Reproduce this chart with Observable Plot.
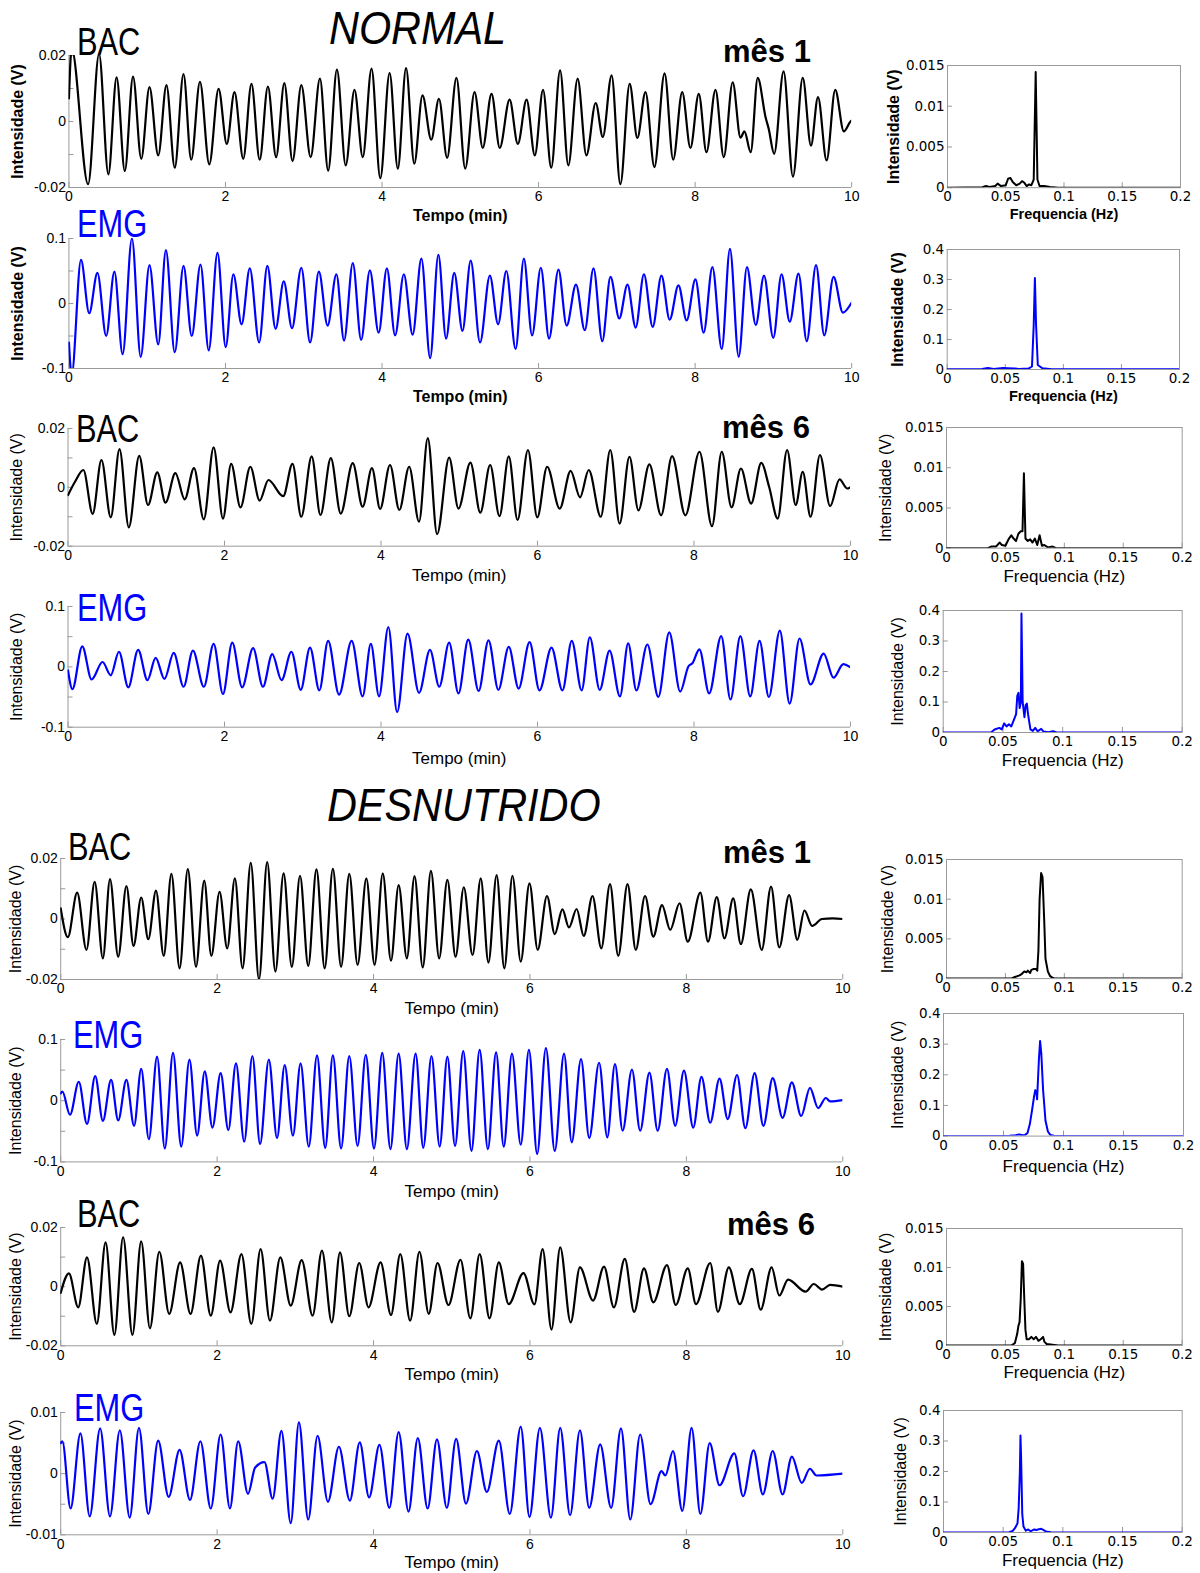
<!DOCTYPE html>
<html>
<head>
<meta charset="utf-8">
<script src="https://cdn.jsdelivr.net/npm/d3@7"></script>
<script src="https://cdn.jsdelivr.net/npm/@observablehq/plot@0.6"></script>
<style>
  html, body { margin: 0; padding: 0; background: #fff; }
  #page { position: relative; width: 1200px; height: 1573px; background: #fff; overflow: hidden; }
  #page svg { position: absolute; }
  .lbl { position: absolute; white-space: nowrap; line-height: 1; font-family: "Liberation Sans", Arial, sans-serif; transform-origin: left top; }
  .title { font-size: 46px; font-style: italic; transform: scaleX(0.9); }
  .sig { font-size: 39px; transform: scaleX(0.79); }
  .mes { font-size: 31px; font-weight: bold; }
  .blue { color: #0000ff; }
</style>
</head>
<body>
<div id="page">
  <div class="lbl title" style="left:329px; top:5px;">NORMAL</div>
  <div class="lbl title" style="left:327px; top:782px;">DESNUTRIDO</div>
  <div class="lbl sig" style="left:77px; top:22px;">BAC</div>
  <div class="lbl sig blue" style="left:77px; top:204px;">EMG</div>
  <div class="lbl sig" style="left:76px; top:409px;">BAC</div>
  <div class="lbl sig blue" style="left:77px; top:588px;">EMG</div>
  <div class="lbl sig" style="left:68px; top:827px;">BAC</div>
  <div class="lbl sig blue" style="left:73px; top:1015px;">EMG</div>
  <div class="lbl sig" style="left:77px; top:1194px;">BAC</div>
  <div class="lbl sig blue" style="left:74px; top:1388px;">EMG</div>
  <div class="lbl mes" style="left:723px; top:36px;">mês 1</div>
  <div class="lbl mes" style="left:722px; top:412px;">mês 6</div>
  <div class="lbl mes" style="left:723px; top:837px;">mês 1</div>
  <div class="lbl mes" style="left:727px; top:1209px;">mês 6</div>
</div>
<script>
// ---- axis ticks ----
const timeTicks = [0, 2, 4, 6, 8, 10];
const freqTicks = [0, 0.05, 0.1, 0.15, 0.2];
const bacTicks = [-0.02, 0, 0.02];
const bacMinor = [-0.01, 0.01];
const emgTicks = [-0.1, 0, 0.1];
const emgMinor = [-0.05, 0.05];
const emgSmallTicks = [-0.01, 0, 0.01];
const emgSmallMinor = [-0.005, 0.005];
const bacSpecTicks = [0, 0.005, 0.01, 0.015];
const emgSpecTicks = [0, 0.1, 0.2, 0.3, 0.4];

// ---- time signals: [time (min), intensity (V)] at successive extrema ----
const normalBacM1 = [[0,0.007],[0.035,0.022],[0.245,-0.019],[0.385,0.0205],[0.504,-0.016],[0.609,0.0134],[0.714,-0.015],[0.819,0.0136],[0.924,-0.0113],[1.029,0.0104],[1.141,-0.0103],[1.246,0.011],[1.352,-0.014],[1.464,0.0144],[1.562,-0.0116],[1.674,0.012],[1.793,-0.013],[1.912,0.0099],[2.017,-0.0068],[2.115,0.0089],[2.227,-0.0113],[2.332,0.0114],[2.437,-0.0116],[2.542,0.0106],[2.647,-0.0108],[2.752,0.0116],[2.857,-0.012],[2.969,0.011],[3.088,-0.0108],[3.207,0.013],[3.312,-0.0149],[3.424,0.0157],[3.536,-0.0133],[3.648,0.0096],[3.754,-0.0108],[3.866,0.016],[3.978,-0.0172],[4.097,0.0147],[4.202,-0.0143],[4.307,0.0162],[4.412,-0.0128],[4.517,0.0079],[4.629,-0.0055],[4.727,0.0069],[4.832,-0.011],[4.951,0.0132],[5.063,-0.0143],[5.182,0.0089],[5.287,-0.008],[5.399,0.0084],[5.504,-0.008],[5.63,0.0066],[5.735,-0.0068],[5.847,0.0066],[5.952,-0.0103],[6.057,0.0096],[6.162,-0.014],[6.275,0.0155],[6.38,-0.0133],[6.499,0.013],[6.611,-0.0103],[6.73,0.0056],[6.821,-0.0047],[6.933,0.014],[7.045,-0.019],[7.164,0.0114],[7.262,-0.005],[7.366,0.0089],[7.48,-0.0138],[7.61,0.0146],[7.72,-0.0116],[7.835,0.0089],[7.94,-0.008],[8.047,0.0084],[8.145,-0.0093],[8.26,0.0096],[8.366,-0.0108],[8.48,0.0119],[8.58,-0.0049],[8.63,-0.003],[8.71,-0.0093],[8.8,0.0132],[8.9,0.0013],[8.94,-0.0022],[9.01,-0.0098],[9.13,0.0152],[9.25,-0.0167],[9.375,0.0132],[9.48,-0.0073],[9.57,0.0074],[9.68,-0.0118],[9.79,0.0096],[9.9,-0.003],[9.985,0],[10,0.0003]];

const normalEmgM1 = [[0,-0.06],[0.035,-0.11],[0.154,0.067],[0.259,-0.015],[0.364,0.047],[0.476,-0.05],[0.581,0.049],[0.686,-0.078],[0.805,0.1],[0.917,-0.082],[1.029,0.059],[1.141,-0.063],[1.239,0.082],[1.352,-0.075],[1.464,0.058],[1.569,-0.05],[1.681,0.06],[1.786,-0.072],[1.898,0.078],[2.003,-0.067],[2.101,0.045],[2.206,-0.032],[2.311,0.054],[2.43,-0.06],[2.535,0.058],[2.64,-0.039],[2.745,0.034],[2.85,-0.038],[2.969,0.055],[3.081,-0.06],[3.193,0.049],[3.305,-0.034],[3.417,0.045],[3.515,-0.057],[3.627,0.062],[3.733,-0.056],[3.845,0.051],[3.957,-0.045],[4.062,0.054],[4.167,-0.049],[4.279,0.045],[4.391,-0.048],[4.503,0.069],[4.615,-0.084],[4.72,0.075],[4.818,-0.054],[4.923,0.047],[5.028,-0.042],[5.133,0.066],[5.252,-0.06],[5.378,0.043],[5.483,-0.032],[5.588,0.05],[5.707,-0.07],[5.812,0.069],[5.917,-0.049],[6.029,0.055],[6.134,-0.054],[6.254,0.052],[6.359,-0.034],[6.478,0.029],[6.59,-0.041],[6.702,0.054],[6.814,-0.058],[6.919,0.041],[7.031,-0.023],[7.136,0.029],[7.241,-0.037],[7.346,0.045],[7.458,-0.036],[7.57,0.043],[7.675,-0.025],[7.787,0.028],[7.892,-0.026],[8.004,0.037],[8.109,-0.045],[8.221,0.056],[8.34,-0.07],[8.445,0.084],[8.557,-0.082],[8.662,0.056],[8.775,-0.033],[8.88,0.043],[8.999,-0.053],[9.104,0.045],[9.209,-0.028],[9.321,0.046],[9.426,-0.058],[9.545,0.059],[9.65,-0.049],[9.769,0.041],[9.888,-0.014],[10,0.0015]];

const normalBacM6 = [[0,-0.0026],[0.091,0.002],[0.196,0.0059],[0.315,-0.009],[0.427,0.0093],[0.546,-0.0102],[0.658,0.013],[0.777,-0.0136],[0.91,0.0107],[1.022,-0.006],[1.141,0.0051],[1.246,-0.0052],[1.372,0.0048],[1.491,-0.0041],[1.61,0.0065],[1.735,-0.0109],[1.861,0.0136],[1.98,-0.0106],[2.085,0.008],[2.204,-0.0068],[2.33,0.007],[2.449,-0.0045],[2.561,0.0025],[2.75,-0.003],[2.869,0.008],[2.981,-0.01],[3.114,0.0105],[3.226,-0.0094],[3.359,0.0099],[3.485,-0.0089],[3.639,0.0082],[3.765,-0.0066],[3.884,0.0065],[3.989,-0.0073],[4.115,0.0076],[4.234,-0.0077],[4.36,0.007],[4.486,-0.0117],[4.598,0.0167],[4.717,-0.0159],[4.871,0.0101],[4.99,-0.0072],[5.143,0.0084],[5.269,-0.0086],[5.395,0.0076],[5.514,-0.0098],[5.633,0.0105],[5.745,-0.0111],[5.878,0.0127],[5.997,-0.0102],[6.123,0.007],[6.284,-0.0072],[6.424,0.0056],[6.543,-0.0034],[6.655,0.0059],[6.809,-0.01],[6.93,0.0127],[7.05,-0.0123],[7.175,0.0104],[7.29,-0.0078],[7.43,0.0078],[7.58,-0.0095],[7.72,0.0106],[7.89,-0.0095],[8.07,0.0121],[8.23,-0.0132],[8.355,0.0121],[8.48,-0.0068],[8.6,0.0064],[8.73,-0.0055],[8.86,0.0083],[8.96,0.0002],[9.07,-0.0106],[9.19,0.0127],[9.3,-0.006],[9.39,0.0053],[9.49,-0.01],[9.61,0.011],[9.74,-0.0064],[9.86,0.0027],[9.96,-0.0004],[10,0.0001]];

const normalEmgM6 = [[0,-0.006],[0.056,-0.037],[0.182,0.034],[0.301,-0.021],[0.441,0.008],[0.546,-0.014],[0.651,0.025],[0.77,-0.034],[0.896,0.028],[1.015,-0.022],[1.12,0.015],[1.232,-0.02],[1.351,0.023],[1.477,-0.033],[1.596,0.027],[1.736,-0.033],[1.861,0.038],[1.98,-0.045],[2.099,0.04],[2.225,-0.034],[2.365,0.031],[2.491,-0.033],[2.61,0.021],[2.729,-0.022],[2.855,0.025],[2.974,-0.038],[3.093,0.032],[3.212,-0.039],[3.324,0.043],[3.464,-0.046],[3.625,0.043],[3.765,-0.049],[3.87,0.038],[3.975,-0.049],[4.094,0.066],[4.206,-0.075],[4.339,0.055],[4.486,-0.043],[4.626,0.028],[4.745,-0.033],[4.871,0.04],[4.99,-0.044],[5.115,0.045],[5.248,-0.04],[5.374,0.044],[5.5,-0.038],[5.633,0.033],[5.759,-0.036],[5.899,0.041],[6.025,-0.039],[6.179,0.032],[6.319,-0.039],[6.438,0.043],[6.564,-0.039],[6.669,0.049],[6.795,-0.038],[6.921,0.027],[7.054,-0.049],[7.159,0.039],[7.264,-0.039],[7.404,0.037],[7.544,-0.05],[7.684,0.057],[7.824,-0.041],[7.93,0.001],[7.98,0.006],[8.069,0.029],[8.194,-0.044],[8.348,0.051],[8.467,-0.054],[8.593,0.051],[8.719,-0.049],[8.838,0.043],[8.957,-0.05],[9.097,0.06],[9.223,-0.061],[9.349,0.047],[9.489,-0.029],[9.657,0.022],[9.783,-0.018],[9.909,0.0045],[10,-0.001]];

const desnBacM1 = [[0,0.0035],[0.091,-0.006],[0.21,0.0087],[0.329,-0.0102],[0.434,0.0123],[0.539,-0.013],[0.63,0.0132],[0.735,-0.0125],[0.84,0.0109],[0.931,-0.0089],[1.029,0.0071],[1.12,-0.0067],[1.218,0.0094],[1.317,-0.0122],[1.415,0.0149],[1.52,-0.0163],[1.625,0.0165],[1.73,-0.0158],[1.835,0.0127],[1.926,-0.0122],[2.031,0.009],[2.129,-0.0097],[2.227,0.0134],[2.325,-0.0163],[2.43,0.0186],[2.535,-0.02],[2.64,0.0188],[2.745,-0.0174],[2.85,0.0151],[2.955,-0.0158],[3.06,0.0143],[3.165,-0.0155],[3.27,0.0164],[3.375,-0.0163],[3.48,0.0166],[3.585,-0.0158],[3.69,0.0149],[3.796,-0.0152],[3.908,0.0134],[4.013,-0.0152],[4.118,0.0151],[4.223,-0.0138],[4.321,0.0112],[4.426,-0.013],[4.524,0.0142],[4.629,-0.016],[4.734,0.0159],[4.839,-0.013],[4.944,0.0129],[5.049,-0.0125],[5.154,0.0105],[5.266,-0.0119],[5.371,0.0134],[5.469,-0.0144],[5.574,0.0145],[5.672,-0.0163],[5.777,0.0143],[5.882,-0.0141],[5.994,0.0118],[6.099,-0.0102],[6.218,0.0076],[6.317,-0.005],[6.415,0.0032],[6.499,-0.0028],[6.597,0.0033],[6.688,-0.0056],[6.8,0.0076],[6.912,-0.0097],[7.024,0.0115],[7.129,-0.0122],[7.248,0.0115],[7.353,-0.0102],[7.472,0.0076],[7.577,-0.0058],[7.689,0.0046],[7.794,-0.0036],[7.913,0.0052],[8.018,-0.0075],[8.179,0.0087],[8.277,-0.0075],[8.389,0.0072],[8.487,-0.0064],[8.599,0.0068],[8.697,-0.0083],[8.824,0.0098],[8.964,-0.0102],[9.083,0.0107],[9.188,-0.0094],[9.314,0.0079],[9.419,-0.0069],[9.51,0.0028],[9.608,-0.0023],[9.734,0],[9.874,0.0002],[10,0]];

const desnEmgM1 = [[0,0.012],[0.021,0.015],[0.119,-0.023],[0.231,0.031],[0.336,-0.038],[0.441,0.04],[0.539,-0.033],[0.644,0.034],[0.735,-0.032],[0.84,0.034],[0.938,-0.041],[1.029,0.052],[1.127,-0.063],[1.232,0.072],[1.331,-0.078],[1.436,0.078],[1.541,-0.075],[1.646,0.067],[1.744,-0.057],[1.842,0.048],[1.94,-0.044],[2.045,0.045],[2.143,-0.048],[2.241,0.061],[2.346,-0.067],[2.451,0.073],[2.549,-0.071],[2.661,0.067],[2.766,-0.061],[2.864,0.058],[2.969,-0.057],[3.067,0.061],[3.172,-0.075],[3.277,0.074],[3.382,-0.077],[3.48,0.074],[3.585,-0.078],[3.69,0.073],[3.796,-0.074],[3.901,0.075],[4.006,-0.078],[4.111,0.078],[4.216,-0.079],[4.321,0.077],[4.426,-0.079],[4.538,0.077],[4.636,-0.077],[4.741,0.073],[4.846,-0.075],[4.944,0.072],[5.042,-0.074],[5.147,0.081],[5.252,-0.082],[5.357,0.083],[5.462,-0.079],[5.567,0.079],[5.665,-0.075],[5.77,0.077],[5.882,-0.072],[5.987,0.083],[6.092,-0.087],[6.204,0.086],[6.317,-0.082],[6.436,0.077],[6.534,-0.068],[6.653,0.068],[6.758,-0.061],[6.884,0.062],[6.989,-0.06],[7.087,0.06],[7.185,-0.049],[7.304,0.051],[7.409,-0.049],[7.528,0.046],[7.633,-0.049],[7.752,0.052],[7.857,-0.041],[7.969,0.049],[8.088,-0.044],[8.193,0.039],[8.305,-0.036],[8.424,0.036],[8.529,-0.03],[8.648,0.042],[8.754,-0.045],[8.873,0.045],[8.985,-0.041],[9.104,0.037],[9.23,-0.028],[9.349,0.03],[9.468,-0.025],[9.58,0.021],[9.685,-0.012],[9.783,0.0044],[9.839,-0.001],[10,0.001]];

const desnBacM6 = [[0,-0.0021],[0.105,0.0045],[0.224,-0.007],[0.336,0.0099],[0.462,-0.0126],[0.574,0.015],[0.686,-0.0163],[0.798,0.0167],[0.917,-0.0163],[1.029,0.0153],[1.141,-0.0141],[1.261,0.0118],[1.387,-0.0092],[1.527,0.0082],[1.66,-0.0092],[1.793,0.0105],[1.919,-0.0098],[2.038,0.0088],[2.171,-0.0087],[2.311,0.011],[2.437,-0.0126],[2.556,0.0127],[2.675,-0.0115],[2.808,0.0099],[2.941,-0.0064],[3.081,0.009],[3.221,-0.0098],[3.34,0.0122],[3.466,-0.0121],[3.571,0.0116],[3.69,-0.01],[3.817,0.008],[3.936,-0.007],[4.09,0.0082],[4.223,-0.0096],[4.342,0.011],[4.468,-0.0115],[4.587,0.0118],[4.706,-0.0092],[4.818,0.008],[4.958,-0.0062],[5.112,0.0091],[5.238,-0.0107],[5.357,0.011],[5.483,-0.0107],[5.602,0.0082],[5.728,-0.0059],[5.917,0.0046],[6.057,-0.006],[6.162,0.0127],[6.275,-0.0145],[6.387,0.0133],[6.52,-0.0121],[6.639,0.0065],[6.807,-0.0047],[6.947,0.0068],[7.073,-0.007],[7.213,0.0094],[7.332,-0.0085],[7.458,0.0062],[7.577,-0.0053],[7.752,0.0073],[7.864,-0.0062],[8.018,0.0062],[8.123,-0.0059],[8.305,0.008],[8.403,-0.0085],[8.543,0.0065],[8.683,-0.0059],[8.838,0.006],[8.95,-0.0078],[9.09,0.0065],[9.188,-0.003],[9.3,0.0024],[9.524,-0.0017],[9.629,0.0009],[9.734,-0.001],[9.839,0.0006],[10,0]];

const desnEmgM6 = [[0,0.005],[0.021,0.0053],[0.126,-0.0057],[0.252,0.0066],[0.371,-0.007],[0.504,0.0074],[0.63,-0.007],[0.756,0.0071],[0.882,-0.0072],[1.001,0.0075],[1.12,-0.0066],[1.246,0.0054],[1.38,-0.0038],[1.52,0.0039],[1.653,-0.0043],[1.786,0.0053],[1.919,-0.0057],[2.045,0.0064],[2.164,-0.0057],[2.269,0.0053],[2.395,-0.0033],[2.486,0.001],[2.605,0.0019],[2.71,-0.0041],[2.822,0.007],[2.941,-0.0081],[3.046,0.0084],[3.165,-0.0075],[3.284,0.0062],[3.417,-0.0046],[3.557,0.0044],[3.697,-0.0044],[3.824,0.0051],[3.943,-0.0039],[4.076,0.0047],[4.202,-0.0056],[4.321,0.0068],[4.447,-0.0062],[4.566,0.0058],[4.692,-0.0057],[4.811,0.0056],[4.937,-0.0056],[5.056,0.0057],[5.182,-0.0049],[5.322,0.0037],[5.448,-0.003],[5.602,0.0054],[5.742,-0.0066],[5.882,0.0077],[5.994,-0.0071],[6.127,0.0075],[6.268,-0.0072],[6.387,0.0075],[6.513,-0.0068],[6.639,0.0071],[6.758,-0.0056],[6.898,0.0048],[7.038,-0.0056],[7.164,0.0074],[7.283,-0.0075],[7.409,0.0064],[7.542,-0.005],[7.682,0.0004],[7.731,-0.0003],[7.829,0.0037],[7.948,-0.0061],[8.067,0.0075],[8.179,-0.0066],[8.298,0.005],[8.424,-0.0019],[8.613,0.0033],[8.725,-0.0037],[8.859,0.0038],[8.978,-0.0034],[9.104,0.0037],[9.23,-0.0034],[9.349,0.0028],[9.475,-0.0015],[9.58,0.0008],[9.664,-0.0003],[10,0]];

// ---- spectra: [frequency (Hz), intensity (V)] ----
const specNormalBacM1 = [[0,0],[0.03,0.00005],[0.033,0.0002],[0.036,0.0001],[0.041,0.0002],[0.043,0.0005],[0.046,0.0002],[0.05,0.0003],[0.052,0.0011],[0.054,0.0012],[0.056,0.0007],[0.059,0.0003],[0.062,0.0005],[0.064,0.0008],[0.066,0.0006],[0.068,0.0002],[0.07,0.0004],[0.072,0.0003],[0.074,0.001],[0.0757,0.0142],[0.0772,0.001],[0.079,0.0002],[0.083,0.0002],[0.088,0.0001],[0.095,0],[0.2,0]];
const specNormalEmgM1 = [[0,0.001],[0.03,0.002],[0.035,0.005],[0.04,0.002],[0.048,0.005],[0.052,0.004],[0.058,0.003],[0.062,0.002],[0.07,0.003],[0.073,0.01],[0.0745,0.15],[0.0755,0.305],[0.0765,0.15],[0.078,0.015],[0.082,0.004],[0.09,0.001],[0.2,0.001]];
const specNormalBacM6 = [[0,0],[0.035,0],[0.038,0.0002],[0.042,0.0002],[0.045,0.0007],[0.047,0.0004],[0.05,0.0003],[0.053,0.0012],[0.055,0.0016],[0.057,0.0012],[0.059,0.0009],[0.061,0.0018],[0.063,0.0021],[0.0645,0.0021],[0.0657,0.0093],[0.067,0.0012],[0.069,0.0009],[0.071,0.0011],[0.073,0.0007],[0.075,0.0012],[0.077,0.0004],[0.079,0.0016],[0.081,0.0003],[0.083,0.0004],[0.086,0.0001],[0.09,0.0002],[0.093,0],[0.2,0]];
const specNormalEmgM6 = [[0,0],[0.04,0],[0.043,0.01],[0.047,0.015],[0.049,0.01],[0.051,0.03],[0.053,0.02],[0.055,0.027],[0.057,0.02],[0.059,0.04],[0.061,0.06],[0.062,0.12],[0.063,0.13],[0.064,0.08],[0.065,0.1],[0.0655,0.39],[0.0665,0.1],[0.068,0.05],[0.069,0.09],[0.07,0.095],[0.071,0.06],[0.073,0.01],[0.075,0.005],[0.077,0.015],[0.079,0.004],[0.082,0.012],[0.084,0.003],[0.088,0.001],[0.092,0.004],[0.095,0],[0.2,0]];
const specDesnBacM1 = [[0,0],[0.055,0],[0.058,0.0002],[0.062,0.0004],[0.064,0.0006],[0.066,0.0009],[0.068,0.0008],[0.069,0.001],[0.071,0.0007],[0.072,0.0011],[0.074,0.0012],[0.076,0.0012],[0.077,0.001],[0.078,0.0035],[0.079,0.01],[0.0803,0.0133],[0.0815,0.0128],[0.083,0.007],[0.084,0.0025],[0.086,0.0009],[0.088,0.0003],[0.09,0.0001],[0.092,0],[0.2,0]];
const specDesnEmgM1 = [[0,0],[0.055,0.001],[0.06,0.003],[0.063,0.005],[0.066,0.003],[0.068,0.004],[0.07,0.01],[0.072,0.04],[0.074,0.09],[0.0755,0.13],[0.0765,0.15],[0.0775,0.14],[0.078,0.12],[0.0795,0.25],[0.0805,0.31],[0.0815,0.27],[0.083,0.15],[0.085,0.05],[0.087,0.015],[0.089,0.004],[0.092,0.001],[0.2,0]];
const specDesnBacM6 = [[0,0],[0.055,0],[0.058,0.0003],[0.06,0.0015],[0.061,0.0025],[0.062,0.003],[0.063,0.006],[0.064,0.0108],[0.065,0.0105],[0.066,0.006],[0.067,0.002],[0.068,0.0008],[0.07,0.0008],[0.072,0.0011],[0.074,0.0008],[0.076,0.0011],[0.078,0.0006],[0.08,0.0008],[0.082,0.0011],[0.083,0.0005],[0.085,0.0002],[0.09,0.0001],[0.095,0],[0.2,0]];
const specDesnEmgM6 = [[0,0],[0.055,0.001],[0.058,0.005],[0.06,0.015],[0.062,0.03],[0.063,0.08],[0.064,0.2],[0.0645,0.318],[0.065,0.25],[0.066,0.06],[0.067,0.02],[0.069,0.006],[0.071,0.01],[0.073,0.004],[0.076,0.01],[0.078,0.008],[0.08,0.011],[0.082,0.012],[0.084,0.008],[0.086,0.003],[0.09,0.001],[0.2,0]];

// ---- drawing ----
const BLACK = "#000000";
const BLUE = "#0000ff";
const AXIS = "#9a9a9a";
const SANS = "'Liberation Sans', Arial, Helvetica, sans-serif";
const fmt = d => String(d);
const page = document.getElementById("page");

function place(svg, left, top) {
  svg.style.left = left + "px";
  svg.style.top = top + "px";
  page.insertBefore(svg, page.firstChild);
}

// centred axis titles, drawn as text marks anchored on the frame
function xTitle(label, dy, size, bold) {
  return Plot.text([label], {text: d => d, frameAnchor: "bottom", textAnchor: "middle", lineAnchor: "middle", dy, fontFamily: SANS, fontSize: size, fontWeight: bold ? "bold" : "normal"});
}
function yTitle(label, dx, size, bold) {
  return Plot.text([label], {text: d => d, frameAnchor: "left", textAnchor: "middle", lineAnchor: "middle", dx, rotate: -90, fontFamily: SANS, fontSize: size, fontWeight: bold ? "bold" : "normal"});
}

function timePanel(p) {
  const mt = 15, mb = 45, mr = 20;
  const fw = p.x1 - p.x0, fh = p.bottom - p.top;
  const chart = Plot.plot({
    width: p.x1 + mr,
    height: fh + mt + mb,
    marginLeft: p.x0, marginRight: mr, marginTop: mt, marginBottom: mb,
    x: {domain: [0, 10]},
    y: {domain: p.yDomain},
    style: {fontFamily: SANS, fontSize: "14px", color: "#000", background: "transparent", overflow: "visible"},
    marks: [
      Plot.ruleY([p.yDomain[0]], {stroke: AXIS}),
      Plot.ruleX([0], {stroke: AXIS}),
      Plot.tickX(timeTicks, {stroke: AXIS, insetTop: fh - 5}),
      Plot.tickY([...p.yTicks, ...p.yMinor], {stroke: AXIS, insetRight: fw - 5}),
      Plot.axisX({ticks: timeTicks, tickSize: 0, tickPadding: 4, label: null, tickFormat: fmt}),
      Plot.axisY({ticks: p.yTicks, tickSize: 0, tickPadding: 3, label: null, tickFormat: fmt}),
      Plot.line(p.data, {x: d => d[0], y: d => d[1], curve: "monotone-x", stroke: p.color, strokeWidth: 2.2, clip: true}),
      xTitle("Tempo (min)", p.xlabDy, p.bold ? 16 : 17, p.bold),
      yTitle("Intensidade (V)", p.ylabX - p.x0, 16, p.bold)
    ]
  });
  place(chart, 0, p.top - mt);
}

function specPanel(p) {
  const L = 850, mt = 15, mb = 45, mr = 15;
  const fw = p.x1 - p.x0, fh = p.bottom - p.top;
  const marks = [
    Plot.frame({stroke: AXIS}),
    Plot.tickX(freqTicks, {stroke: AXIS, insetTop: fh - 5}),
    Plot.tickY(p.yTicks, {stroke: AXIS, insetRight: fw - 5}),
    Plot.axisX({ticks: freqTicks, tickSize: 0, tickPadding: 4, label: null, tickFormat: fmt}),
    Plot.axisY({ticks: p.yTicks, tickSize: 0, tickPadding: 3, label: null, tickFormat: fmt}),
    Plot.line(p.data, {x: d => d[0], y: d => d[1], stroke: p.color, strokeWidth: 2, clip: true}),
    yTitle("Intensidade (V)", p.ylabX - p.x0, 16, p.bold)
  ];
  if (p.xlabDy != null) marks.push(xTitle("Frequencia (Hz)", p.xlabDy, p.bold ? 14.5 : 17, p.bold));
  const chart = Plot.plot({
    width: p.x1 + mr - L,
    height: fh + mt + mb,
    marginLeft: p.x0 - L, marginRight: mr, marginTop: mt, marginBottom: mb,
    x: {domain: [0, 0.2]},
    y: {domain: p.yDomain},
    style: {fontFamily: "'DejaVu Sans', sans-serif", fontSize: "13.5px", color: "#000", background: "transparent", overflow: "visible"},
    marks
  });
  place(chart, L, p.top - mt);
}

const bacAxis = {yDomain: [-0.02, 0.02], yTicks: bacTicks, yMinor: bacMinor};
const emgAxis = {yDomain: [-0.1, 0.1], yTicks: emgTicks, yMinor: emgMinor};
const emgSmallAxis = {yDomain: [-0.01, 0.01], yTicks: emgSmallTicks, yMinor: emgSmallMinor};
const bacSpecAxis = {yDomain: [0, 0.015], yTicks: bacSpecTicks};
const emgSpecAxis = {yDomain: [0, 0.4], yTicks: emgSpecTicks};

[
  {data: normalBacM1, color: BLACK, ...bacAxis, x0: 68.4, x1: 851.2, top: 55, bottom: 187, bold: true, xlabDy: 28, ylabX: 17},
  {data: normalEmgM1, color: BLUE, ...emgAxis, x0: 68.4, x1: 851.2, top: 238.3, bottom: 368.3, bold: true, xlabDy: 28, ylabX: 17},
  {data: normalBacM6, color: BLACK, ...bacAxis, x0: 67.5, x1: 850, top: 428.3, bottom: 546, bold: false, xlabDy: 29, ylabX: 16},
  {data: normalEmgM6, color: BLUE, ...emgAxis, x0: 67.5, x1: 850, top: 606, bottom: 726.7, bold: false, xlabDy: 31, ylabX: 16},
  {data: desnBacM1, color: BLACK, ...bacAxis, x0: 60.2, x1: 842.3, top: 858.3, bottom: 979.3, bold: false, xlabDy: 29, ylabX: 15},
  {data: desnEmgM1, color: BLUE, ...emgAxis, x0: 60.2, x1: 842.3, top: 1039.3, bottom: 1161.7, bold: false, xlabDy: 30, ylabX: 15},
  {data: desnBacM6, color: BLACK, ...bacAxis, x0: 60.2, x1: 842.3, top: 1226.7, bottom: 1345, bold: false, xlabDy: 29, ylabX: 15},
  {data: desnEmgM6, color: BLUE, ...emgSmallAxis, x0: 60.2, x1: 842.3, top: 1411.7, bottom: 1534, bold: false, xlabDy: 28, ylabX: 15}
].forEach(timePanel);

[
  {data: specNormalBacM1, color: BLACK, ...bacSpecAxis, x0: 947, x1: 1180, top: 64.7, bottom: 186.9, bold: true, xlabDy: 27, ylabX: 893},
  {data: specNormalEmgM1, color: BLUE, ...emgSpecAxis, x0: 946.7, x1: 1179, top: 249, bottom: 369, bold: true, xlabDy: 27, ylabX: 897},
  {data: specNormalBacM6, color: BLACK, ...bacSpecAxis, x0: 946, x1: 1181.7, top: 427, bottom: 547.7, bold: false, xlabDy: 28, ylabX: 885},
  {data: specNormalEmgM6, color: BLUE, ...emgSpecAxis, x0: 942.7, x1: 1181.7, top: 610, bottom: 732, bold: false, xlabDy: 28, ylabX: 897},
  {data: specDesnBacM1, color: BLACK, ...bacSpecAxis, x0: 946, x1: 1181.7, top: 858.9, bottom: 978, bold: false, xlabDy: null, ylabX: 887},
  {data: specDesnEmgM1, color: BLUE, ...emgSpecAxis, x0: 943, x1: 1183, top: 1013.4, bottom: 1136, bold: false, xlabDy: 30, ylabX: 897},
  {data: specDesnBacM6, color: BLACK, ...bacSpecAxis, x0: 946, x1: 1181.7, top: 1228, bottom: 1345, bold: false, xlabDy: 27, ylabX: 885},
  {data: specDesnEmgM6, color: BLUE, ...emgSpecAxis, x0: 943, x1: 1181.7, top: 1410, bottom: 1532, bold: false, xlabDy: 28, ylabX: 900}
].forEach(specPanel);
</script>
</body>
</html>
